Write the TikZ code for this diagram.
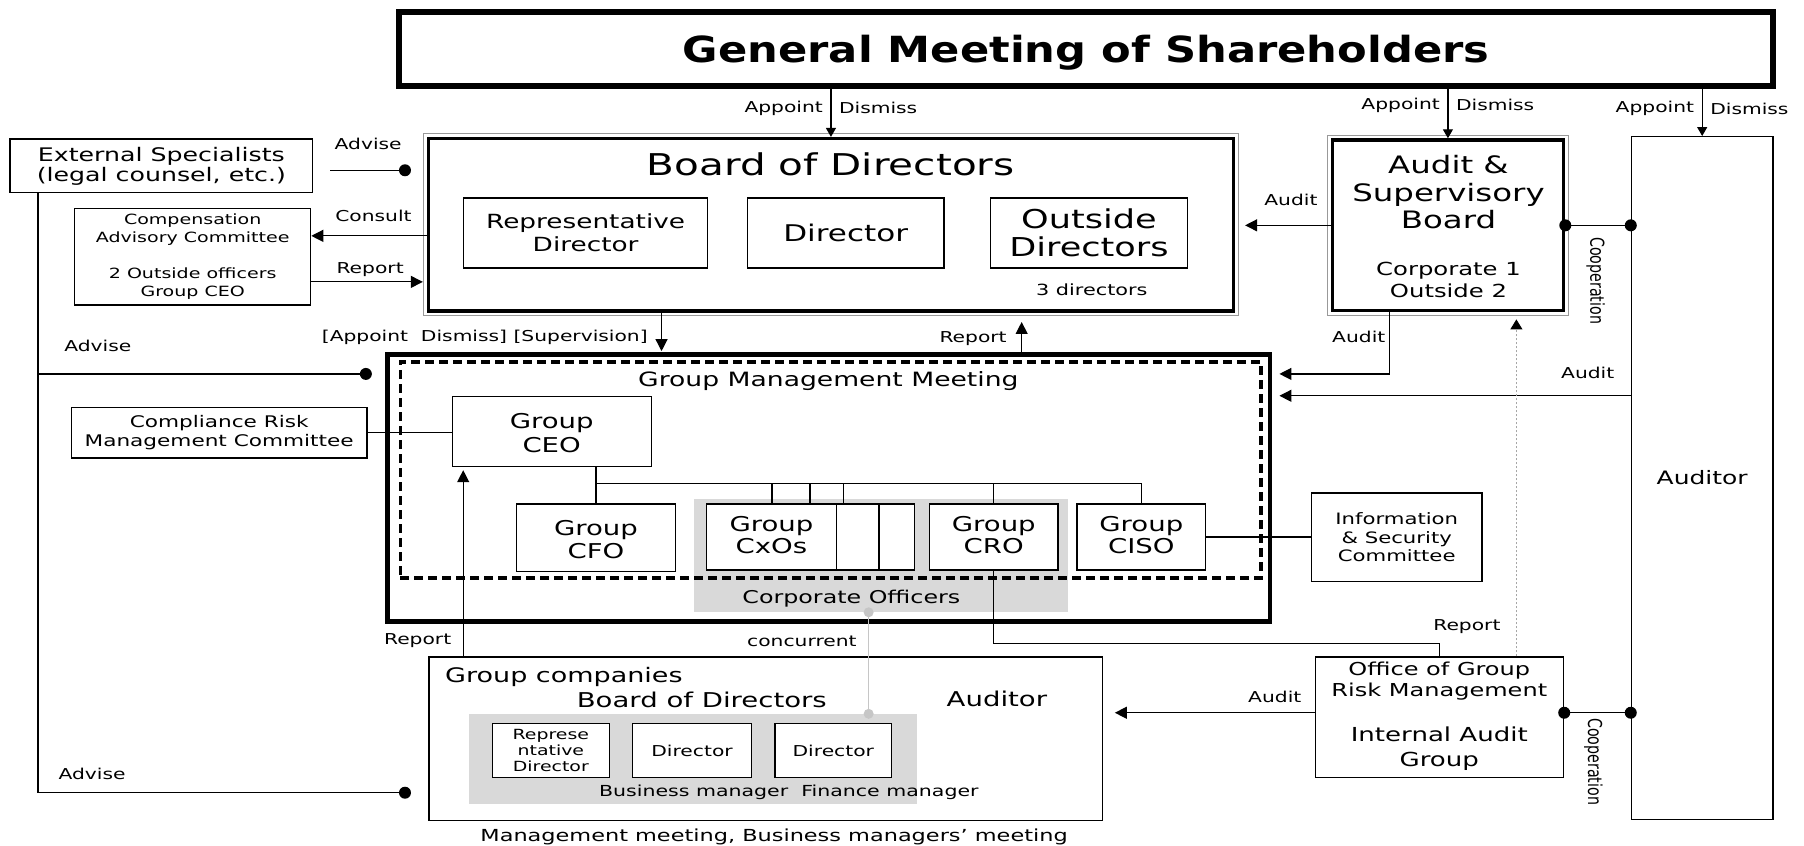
\documentclass[tikz,border=0pt]{standalone}
\usepackage{fontspec}
\usepackage{graphicx}
\setmainfont{DejaVu Sans}[FakeStretch=1.35]
\newfontfamily\titlefont{DejaVu Sans}[FakeStretch=1.2]
\newfontfamily\uprightplain{DejaVu Sans}
\usetikzlibrary{arrows.meta,fit,calc}
\newcommand\fsz[2]{\fontsize{#1}{#2}\selectfont}

\begin{document}
\begin{tikzpicture}[x=1.1505pt, y=-1.1505pt,
  box/.style={draw, line width=1.3pt, fill=white, inner sep=0pt},
  txt/.style={align=center, inner sep=0pt},
  lbl/.style={font=\fsz{15}{18}, inner sep=1pt},
  arr/.style={line width=1.2pt, -{Triangle[length=12pt,width=12pt]}},
  arrS/.style={line width=1.2pt, -{Triangle[length=9pt,width=10pt]}},
  conn/.style={line width=1.2pt},
  dotarr/.style={draw=gray!70, line width=1pt, dash pattern=on 2pt off 2pt,
    -{Triangle[length=10pt,width=12pt,color=black]}},
  dot/.style={circle, fill=black, inner sep=0pt, minimum size=12pt},
  gdot/.style={circle, fill=gray!45, inner sep=0pt, minimum size=10pt},
  ring/.style={draw=gray!80, line width=1pt},
  shade/.style={fill=gray!30, inner sep=0pt},
]
\fill[white] (0,0) rectangle (1568,735);
\useasboundingbox (0,0) rectangle (1568,735);

% ---------- General Meeting of Shareholders ----------
\node[box, line width=6pt, fit={(347,10) (1541,75)}] (gm) {};
\node[txt, font=\titlefont\bfseries\fsz{36}{40}] (gmt) at ([yshift=-4pt]gm.center) {General Meeting of Shareholders};

% ---------- Board of Directors ----------
\node[box, line width=3.5pt, fit={(372.5,120.5) (1072,270.5)}] (bod) {};
\draw[ring] ([shift={(-3pt,3pt)}]bod.north west) rectangle ([shift={(3pt,-3pt)}]bod.south east);
\node[txt, font=\fsz{30}{34}] (bodt) at (722,143) {Board of Directors};
\node[box, fit={(403,172) (615,233)}] (rep) {};
\node[txt, font=\fsz{19.5}{23.4}] (rept) at (rep.center) {Representative\\Director};
\node[box, fit={(649.5,172) (820.5,233)}] (dir) {};
\node[txt, font=\fsz{23}{27}] (dirt) at (dir.center) {Director};
\node[box, fit={(861,172) (1032,233)}] (outd) {};
\node[txt, font=\fsz{26}{27.4}] (outdt) at (outd.center) {Outside\\Directors};
\node[txt, font=\fsz{15.4}{18}] (nd) at (949,252) {3 directors};

% ---------- Audit & Supervisory Board ----------
\node[box, line width=3.5pt, fit={(1158,121.7) (1359,270)}] (asb) {};
\draw[ring] ([shift={(-3pt,3pt)}]asb.north west) rectangle ([shift={(3pt,-3pt)}]asb.south east);
\node[txt, font=\fsz{24}{27.5}] (asbt) at (1259,167) {Audit \&\\Supervisory\\Board};
\node[txt, font=\fsz{18}{22}] (asbc) at (1259,243.5) {Corporate 1\\Outside 2};

% ---------- Auditor ----------
\node[box, fit={(1418,118.8) (1541,712)}] (aud) {};
\node[txt, font=\fsz{18.5}{22}] (audt) at (aud.center) {Auditor};

% ---------- Left column ----------
\node[box, fit={(8.7,120.8) (271.8,167.5)}] (ext) {};
\node[txt, font=\fsz{18.7}{20}] (extt) at (ext.center) {External Specialists\\(legal counsel, etc.)};
\node[box, fit={(65,181) (270,265)}] (comp) {};
\node[txt, font=\fsz{14.1}{17.6}] (compt) at (comp.center) {Compensation\\Advisory Committee\\[19pt]2 Outside officers\\Group CEO};
\node[box, fit={(62,354) (319,398)}] (crm) {};
\node[txt, font=\fsz{16}{18.3}] (crmt) at (crm.center) {Compliance Risk\\Management Committee};

% ---------- Group Management Meeting ----------
\node[draw, line width=4.5pt, inner sep=0pt, fit={(337,308) (1104,540)}] (gmm) {};
\node[shade, fit={(603,434) (928,532)}] (corp) {};
\node[draw, line width=3.5pt, dash pattern=on 9pt off 5pt, inner sep=0pt, fit={(348,314.5) (1096,502.5)}] (gmmd) {};
\node[txt, font=\fsz{19.7}{22}] (gmmt) at (720,331) {Group Management Meeting};
\node[txt, font=\fsz{17.6}{20}] (corpt) at (740,520) {Corporate Officers};

\node[box, fit={(393,344.5) (566,405.5)}] (ceo) {};
\node[txt, font=\fsz{20.4}{24}] (ceot) at ([yshift=-1.5pt]ceo.center) {Group\\CEO};
\node[box, fit={(449,438) (587,497)}] (cfo) {};
\node[txt, font=\fsz{20.4}{23.5}] (cfot) at ([yshift=-1.5pt]cfo.center) {Group\\CFO};
\node[box, fit={(614,438) (727,495.5)}] (cxo) {};
\node[txt, font=\fsz{20.4}{22}] (cxot) at ([yshift=2pt]cxo.center) {Group\\CxOs};
\node[box, fit={(727,438) (764,495.5)}] (cxo2) {};
\node[box, fit={(764,438) (795,495.5)}] (cxo3) {};
\node[box, fit={(808,438) (919.5,495.5)}] (cro) {};
\node[txt, font=\fsz{20.4}{22}] (crot) at ([yshift=2pt]cro.center) {Group\\CRO};
\node[box, fit={(936,438) (1048,495.5)}] (ciso) {};
\node[txt, font=\fsz{20.4}{22}] (cisot) at ([yshift=2pt]ciso.center) {Group\\CISO};
\node[box, fit={(1140,428.5) (1288,505.5)}] (isc) {};
\node[txt, font=\fsz{15.7}{18.8}] (isct) at (isc.center) {Information\\\& Security\\Committee};

% ---------- Group companies ----------
\node[box, fit={(373,571) (958,713)}] (gc) {};
\node[txt, anchor=west, font=\fsz{20}{22}] (gct1) at (386.8,588) {Group companies};
\node[txt, font=\fsz{20.4}{22}] (gct2) at (610,608.5) {Board of Directors};
\node[txt, font=\fsz{20.4}{22}] (gct3) at (866.5,607.6) {Auditor};
\node[shade, fit={(407.7,620.6) (797,699)}] (gcg) {};
\node[box, fit={(428,628.6) (529.6,676)}] (grep) {};
\node[txt, font=\fsz{14}{15.8}] (grept) at (grep.center) {Represe\\ntative\\Director};
\node[box, fit={(550,628.6) (653,676)}] (gdir1) {};
\node[txt, font=\fsz{15}{18}] (gdir1t) at (gdir1.center) {Director};
\node[box, fit={(673.6,628.6) (775,676)}] (gdir2) {};
\node[txt, font=\fsz{15}{18}] (gdir2t) at (gdir2.center) {Director};
\node[txt, font=\fsz{15.2}{18}] (gcbm) at (685.6,689) {Business manager\ \ Finance manager};
\node[txt, font=\fsz{16.6}{18}] (gcmm) at (672.8,727) {Management meeting, Business managers’ meeting};

% ---------- Internal audit ----------
\node[box, fit={(1143.5,571) (1359,676)}] (ogr) {};
\node[txt, font=\fsz{17.8}{20.7}] (ogrt1) at (1251,592) {Office of Group\\Risk Management};
\node[txt, font=\fsz{19.3}{25}] (ogrt2) at (1251,651) {Internal Audit\\Group};

% ---------- helper coordinates ----------
\coordinate (xs) at (575,0);
\coordinate (xr) at (888,0);
\coordinate (xa) at (1208,0);
\coordinate (ya1) at (0,325);
\coordinate (ya2) at (0,344);
\coordinate (xd) at (1318,0);
\coordinate (xl) at (33,0);
\coordinate (advA) at (287,148);
\coordinate (advB) at (352,148);
\coordinate (adv2) at (318,325);
\coordinate (adv3) at (352,689);
\coordinate (yc1) at (0,205);
\coordinate (yc2) at (0,245);
\coordinate (xrep) at (402.6,0);
\coordinate (xcc) at (755,0);
\coordinate (yt) at (0,420);
\coordinate (xc1) at (671,0);
\coordinate (xc2) at (704,0);
\coordinate (xc3) at (733,0);
\coordinate (yr) at (0,559.5);
\coordinate (yo) at (0,619.5);

% ---------- appointment arrows ----------
\draw[arrS] (gm.south -| bod.north) -- (bod.north);
\node[lbl, anchor=east] (l1a) at ($(bod.north)+(-6,-25)$) {Appoint};
\node[lbl, anchor=west] (l1d) at ($(bod.north)+(6,-25)$) {Dismiss};
\draw[arrS] (gm.south -| asb.north) -- (asb.north);
\node[lbl, anchor=east] (l2a) at ($(asb.north)+(-6,-29)$) {Appoint};
\node[lbl, anchor=west] (l2d) at ($(asb.north)+(6,-29)$) {Dismiss};
\draw[arrS] (gm.south -| aud.north) -- (aud.north);
\node[lbl, anchor=east] (l3a) at ($(aud.north)+(-6,-24)$) {Appoint};
\node[lbl, anchor=west] (l3d) at ($(aud.north)+(6,-24)$) {Dismiss};

% ---------- audit relations ----------
\draw[arr, shorten >=10pt] (asb.west) -- (bod.east |- asb.west);
\node[lbl] (la1) at (1122,174) {Audit};
\draw[arr, shorten >=7pt] (asb.south -| xa) -- (xa |- ya1) -- (gmm.east |- ya1);
\node[lbl] (la2) at (1181,293) {Audit};
\draw[arr, shorten >=7pt] (aud.west |- ya2) -- (gmm.east |- ya2);
\node[lbl] (la3) at (1380,324) {Audit};
\draw[conn] (asb.east) -- (aud.west |- asb.east);
\node[dot] (dc1) at (asb.east) {};
\node[dot] (dc2) at (aud.west |- asb.east) {};
\node[rotate=-90, inner sep=0pt, font=\uprightplain\fsz{14.2}{16}] (coop1) at (1387,244) {\scalebox{1}[1.35]{Cooperation}};

% ---------- advice, consultation ----------
\draw[conn] (advA) -- (advB);
\node[dot] (da1) at (advB) {};
\node[lbl] (lad1) at (320,125) {Advise};
\draw[arr] (bod.west |- yc1) -- (comp.east |- yc1);
\node[lbl] (lcons) at (324.6,188) {Consult};
\draw[arr, shorten >=4pt] (comp.east |- yc2) -- (bod.west |- yc2);
\node[lbl] (lrep1) at (321.7,234.7) {Report};
\draw[conn] (ext.south -| xl) -- (xl |- adv3) -- (adv3);
\draw[conn] (xl |- adv2) -- (adv2);
\node[dot] (da2) at (adv2) {};
\node[dot] (da3) at (adv3) {};
\node[lbl] (lad2) at (85,301) {Advise};
\node[lbl] (lad3) at (80,673) {Advise};

% ---------- board to management ----------
\draw[arr, shorten >=1pt] (bod.south -| xs) -- (gmm.north -| xs);
\node[lbl, anchor=east] (lsup) at (564,293) {[Appoint\ \ Dismiss] [Supervision]};
\draw[arr, shorten >=9pt] (gmm.north -| xr) -- (bod.south -| xr);
\node[lbl, anchor=east] (lrep2) at (876,294) {Report};

% ---------- management tree ----------
\draw[conn] (crm.east) -- (ceo.west |- crm.east);
\draw[conn] (ceo.south -| cfo.north) -- (cfo.north);
\draw[conn] (cfo.north |- yt) -- (ciso.north |- yt) -- (ciso.north);
\draw[conn] (xc1 |- yt) -- (xc1 |- cxo.north);
\draw[conn] (xc2 |- yt) -- (xc2 |- cxo.north);
\draw[conn] (xc3 |- yt) -- (xc3 |- cxo.north);
\draw[conn] (cro.north |- yt) -- (cro.north);
\draw[conn] (ciso.east) -- (isc.west |- ciso.east);

% ---------- reporting lines ----------
\draw[conn] (cro.south) -- (cro.south |- yr) -| (ogr.north);
\node[lbl] (lrep3) at (1275,545) {Report};
\draw[dotarr, shorten >=7pt] (ogr.north -| xd) -- (asb.south -| xd);
\draw[arr, shorten >=3pt] (gc.north -| xrep) -- (ceo.south -| xrep);
\node[lbl] (lrep4) at (363,557) {Report};
\draw[gray!45, line width=1.2pt] (corp.south -| xcc) -- (gcg.north -| xcc);
\node[gdot] (dg1) at (corp.south -| xcc) {};
\node[gdot] (dg2) at (gcg.north -| xcc) {};
\node[lbl] (lconc) at (697,557) {concurrent};
\draw[arr, shorten >=12pt] (ogr.west |- yo) -- (gc.east |- yo);
\node[lbl] (la4) at (1108,605.5) {Audit};
\draw[conn] (ogr.east |- yo) -- (aud.west |- yo);
\node[dot] (dc3) at (ogr.east |- yo) {};
\node[dot] (dc4) at (aud.west |- yo) {};
\node[rotate=-90, inner sep=0pt, font=\uprightplain\fsz{14.2}{16}] (coop2) at (1385,662) {\scalebox{1}[1.35]{Cooperation}};
\end{tikzpicture}
\end{document}
